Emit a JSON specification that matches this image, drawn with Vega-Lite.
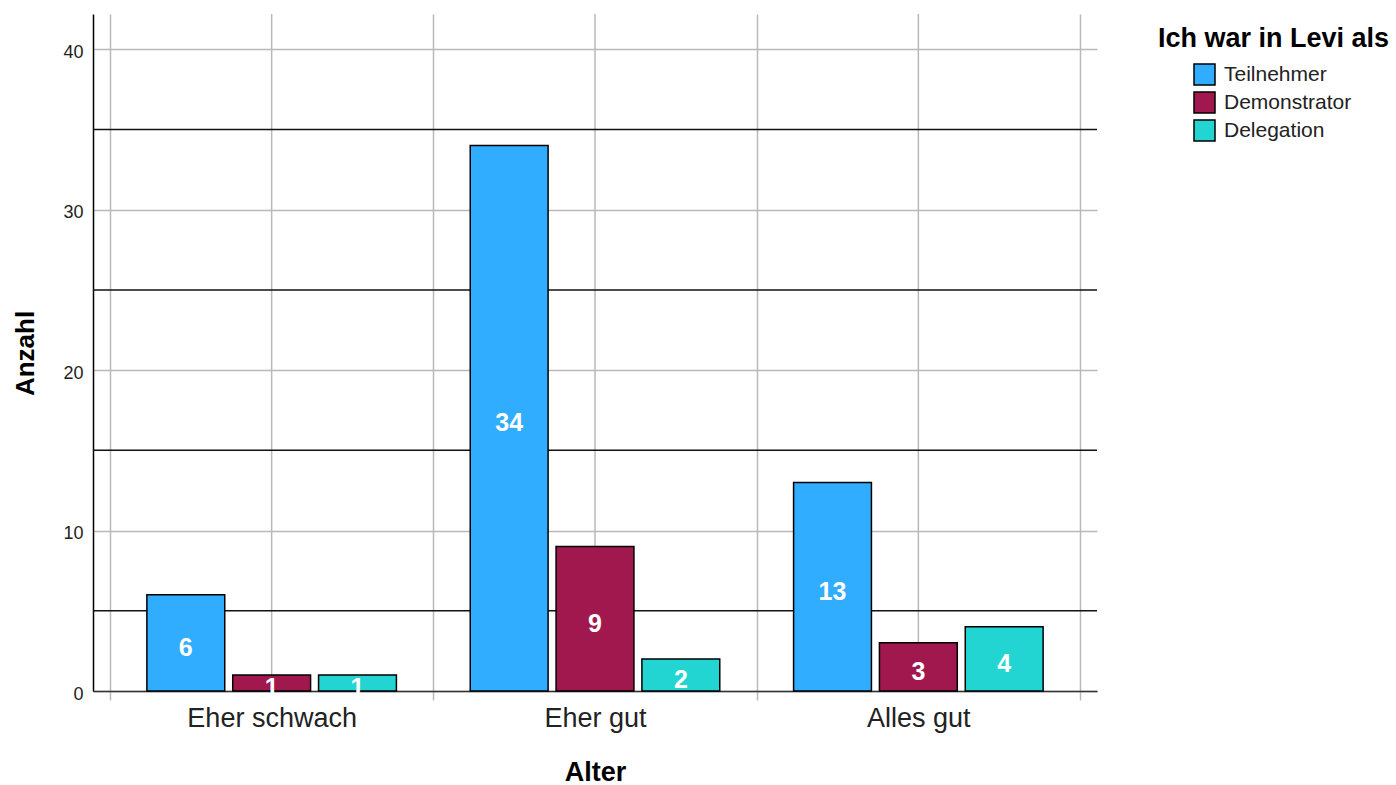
{
  "$schema": "https://vega.github.io/schema/vega-lite/v6.json",
  "width": 1004,
  "height": 677,
  "autosize": {"type": "none"},
  "padding": {"left": 93, "top": 14, "right": 299, "bottom": 94},
  "background": "white",
  "config": {"view": {"stroke": null}, "font": "Liberation Sans"},
  "datasets": {
    "counts": [
      {"Alter": "Eher schwach", "Rolle": "Teilnehmer", "Anzahl": 6},
      {"Alter": "Eher schwach", "Rolle": "Demonstrator", "Anzahl": 1},
      {"Alter": "Eher schwach", "Rolle": "Delegation", "Anzahl": 1},
      {"Alter": "Eher gut", "Rolle": "Teilnehmer", "Anzahl": 34},
      {"Alter": "Eher gut", "Rolle": "Demonstrator", "Anzahl": 9},
      {"Alter": "Eher gut", "Rolle": "Delegation", "Anzahl": 2},
      {"Alter": "Alles gut", "Rolle": "Teilnehmer", "Anzahl": 13},
      {"Alter": "Alles gut", "Rolle": "Demonstrator", "Anzahl": 3},
      {"Alter": "Alles gut", "Rolle": "Delegation", "Anzahl": 4}
    ],
    "cats": [{"Alter": "Eher schwach"}, {"Alter": "Eher gut"}, {"Alter": "Alles gut"}],
    "minor": [{"Anzahl": 5}, {"Anzahl": 15}, {"Anzahl": 25}, {"Anzahl": 35}]
  },
  "resolve": {"scale": {"y": "independent"}},
  "layer": [
    {
      "data": {"name": "cats"},
      "mark": {"type": "rule", "color": "#b9b9b9", "strokeWidth": 1.5},
      "encoding": {
        "x": {"field": "Alter", "type": "nominal", "bandPosition": 0.5, "sort": ["Eher schwach", "Eher gut", "Alles gut"]}
      }
    },
    {
      "data": {"name": "minor"},
      "mark": {"type": "rule", "color": "#111111", "strokeWidth": 1.5},
      "encoding": {
        "y": {"field": "Anzahl", "type": "quantitative", "scale": {"domain": [0, 42.2], "nice": false}, "axis": null}
      }
    },
    {
      "data": {"name": "counts"},
      "mark": {"type": "bar", "stroke": "#000000", "strokeWidth": 1.5},
      "encoding": {
        "x": {
          "field": "Alter", "type": "nominal",
          "sort": ["Eher schwach", "Eher gut", "Alles gut"],
          "scale": {"paddingInner": 0, "paddingOuter": 0.0525},
          "axis": {
            "title": "Alter", "titleFontSize": 27, "titleFontWeight": "bold", "titleColor": "#000000",
            "titleY": 89, "titleBaseline": "alphabetic",
            "labelFontSize": 27, "labelColor": "#222222", "labelAngle": 0, "labelAlign": "center", "labelPadding": 18,
            "tickBand": "extent", "ticks": true, "tickSize": 9, "tickColor": "#b9b9b9", "tickWidth": 1.5,
            "grid": true, "gridColor": "#b9b9b9", "gridWidth": 1.5,
            "domainColor": "#333333", "domainWidth": 1.5
          }
        },
        "xOffset": {
          "field": "Rolle", "type": "nominal",
          "sort": ["Teilnehmer", "Demonstrator", "Delegation"],
          "scale": {"paddingInner": 0.093, "paddingOuter": 0.43}
        },
        "y": {
          "field": "Anzahl", "type": "quantitative",
          "scale": {"domain": [0, 42.2], "nice": false},
          "axis": {
            "title": "Anzahl", "values": [0, 10, 20, 30, 40],
            "grid": true, "gridColor": "#b9b9b9", "gridWidth": 1.5,
            "ticks": false, "labelPadding": 10, "labelFontSize": 18, "labelColor": "#222222", "labelOffset": 3,
            "domainColor": "#000000", "domainWidth": 1.5,
            "titleFontSize": 26, "titleFontWeight": "bold", "titleColor": "#000000",
            "titleX": -60, "titleY": 339, "titleBaseline": "alphabetic", "titleAngle": -90
          }
        },
        "color": {
          "field": "Rolle", "type": "nominal",
          "scale": {"domain": ["Teilnehmer", "Demonstrator", "Delegation"], "range": ["#31adff", "#a0184e", "#22d5d3"]},
          "legend": {
            "title": "Ich war in Levi als", "orient": "none", "legendX": 1065, "legendY": 12,
            "titleFontSize": 27, "titleFontWeight": "bold", "titleColor": "#000000", "titlePadding": 10, "titleLimit": 400,
            "labelFontSize": 21, "labelColor": "#222222", "labelLimit": 400,
            "symbolType": "square", "symbolSize": 441, "symbolStrokeColor": "#000000", "symbolStrokeWidth": 1.5,
            "symbolOffset": 35, "labelOffset": 8, "rowPadding": 1, "padding": 0
          }
        }
      }
    },
    {
      "data": {"name": "counts"},
      "mark": {"type": "text", "color": "white", "fontWeight": "bold", "fontSize": 25, "baseline": "middle", "dy": 5},
      "encoding": {
        "x": {"field": "Alter", "type": "nominal", "sort": ["Eher schwach", "Eher gut", "Alles gut"]},
        "xOffset": {"field": "Rolle", "type": "nominal", "sort": ["Teilnehmer", "Demonstrator", "Delegation"]},
        "y": {"field": "Anzahl", "type": "quantitative", "scale": {"domain": [0, 84.4], "nice": false}, "axis": null},
        "text": {"field": "Anzahl", "type": "quantitative"}
      }
    }
  ]
}
